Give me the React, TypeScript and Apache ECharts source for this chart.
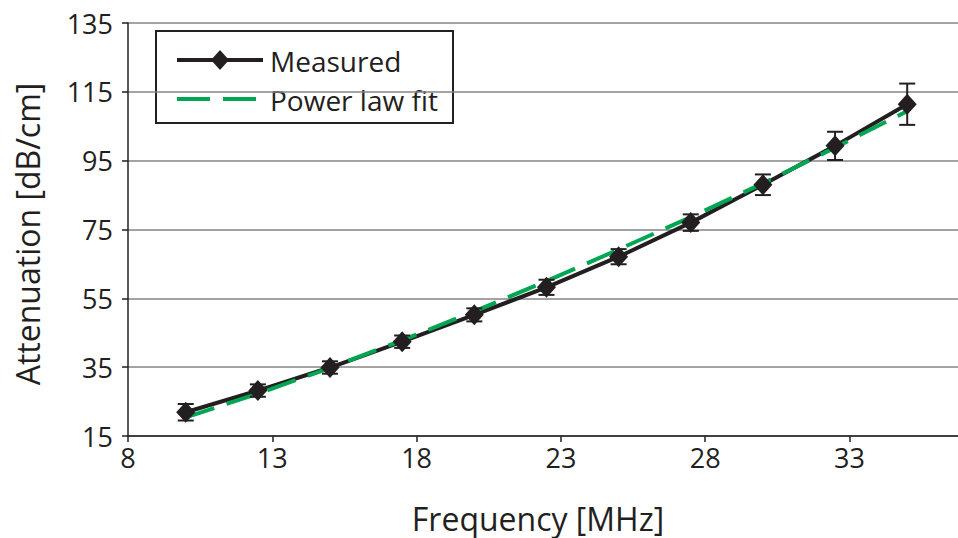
import React, { useEffect, useRef } from "react";
import * as echarts from "echarts";

const frequency = [10, 12.5, 15, 17.5, 20, 22.5, 25, 27.5, 30, 32.5, 35];
const measured = [21.9, 28.2, 34.9, 42.4, 50.2, 58.2, 67.1, 77.0, 88.0, 99.3, 111.4];
const errorBar = [2.4, 1.8, 1.8, 1.8, 1.9, 2.2, 2.2, 2.4, 3.0, 4.1, 6.0];
const powerFit = [20.4, 27.3, 34.8, 42.8, 51.2, 60.0, 69.2, 78.6, 88.4, 98.8, 109.4];
const legendNames = ["Measured", "Power law fit"];

const xMin = 8, xMax = 36.76, xStep = 5;
const yMin = 15, yMax = 135, yStep = 20;

const INK = "#231f20";
const GREEN = "#00a651";
const FONT = "Open Sans";

export default function App() {
  const ref = useRef<HTMLDivElement>(null);
  useEffect(() => {
    if (!ref.current) return;
    const chart = echarts.init(ref.current, null, { renderer: "svg" });
    chart.setOption({
      animation: false,
      backgroundColor: "#ffffff",
      grid: { left: 128, right: 0, top: 23, bottom: 102, containLabel: false },
      graphic: [
        {
          type: "group",
          z: 10,
          children: [
            {
              type: "rect",
              shape: { x: 156, y: 31, width: 297, height: 92 },
              style: { fill: "#ffffff", stroke: INK, lineWidth: 2 },
            },
            {
              type: "line",
              shape: { x1: 177, y1: 60, x2: 263, y2: 60 },
              style: { stroke: INK, lineWidth: 4 },
            },
            {
              type: "polygon",
              shape: { points: [[220, 50], [229, 60], [220, 70], [211, 60]] },
              style: { fill: INK },
            },
            {
              type: "text",
              x: 270,
              y: 61,
              style: { text: legendNames[0], fontFamily: FONT, fontSize: 28, fill: INK, verticalAlign: "middle" },
            },
            {
              type: "line",
              shape: { x1: 177, y1: 99, x2: 258, y2: 99 },
              style: { stroke: GREEN, lineWidth: 4, lineDash: [33, 13] },
            },
            {
              type: "text",
              x: 270,
              y: 100,
              style: { text: legendNames[1], fontFamily: FONT, fontSize: 28, fill: INK, verticalAlign: "middle" },
            },
          ],
        },
        {
          type: "text",
          x: 538,
          y: 518,
          style: {
            text: "Frequency [MHz]",
            fontFamily: FONT,
            fontSize: 32,
            fill: INK,
            align: "center",
            verticalAlign: "middle",
          },
        },
        {
          type: "text",
          x: 27,
          y: 234,
          rotation: Math.PI / 2,
          style: {
            text: "Attenuation [dB/cm]",
            fontFamily: FONT,
            fontSize: 32,
            fill: INK,
            align: "center",
            verticalAlign: "middle",
          },
        },
      ],
      xAxis: [
        { type: "value", min: xMin, max: xMax, show: false, position: "bottom" },
        {
          type: "value",
          position: "bottom",
          min: 0,
          max: xMax - xMin,
          interval: xStep,
          axisLine: { show: true, lineStyle: { color: INK, width: 1.5 } },
          axisTick: { show: true, length: 6, lineStyle: { color: INK, width: 1.5 } },
          axisLabel: {
            margin: 8,
            fontFamily: FONT,
            fontSize: 27,
            color: INK,
            showMaxLabel: false,
            formatter: (v: number) => String(Math.round(v + xMin)),
          },
          splitLine: { show: false },
        },
      ],
      yAxis: [
        { type: "value", min: yMin, max: yMax, show: false, position: "left" },
        {
          type: "value",
          position: "left",
          min: 0,
          max: yMax - yMin,
          interval: yStep,
          axisLine: { show: true, lineStyle: { color: INK, width: 1.5 } },
          axisTick: { show: true, length: 6, lineStyle: { color: INK, width: 1.5 } },
          axisLabel: {
            margin: 15,
            fontFamily: FONT,
            fontSize: 27,
            color: INK,
            formatter: (v: number) => String(v + yMin),
          },
          splitLine: { show: true, lineStyle: { color: "#858585", width: 1.5 } },
        },
      ],
      series: [
        {
          name: legendNames[0],
          type: "line",
          xAxisIndex: 0,
          yAxisIndex: 0,
          data: frequency.map((f, i) => [f, measured[i]]),
          symbol: "none",
          lineStyle: { color: INK, width: 4 },
          z: 2,
        },
        {
          name: legendNames[1],
          type: "line",
          xAxisIndex: 0,
          yAxisIndex: 0,
          data: frequency.map((f, i) => [f, powerFit[i]]),
          symbol: "none",
          lineStyle: { color: GREEN, width: 4, type: [30, 13] },
          z: 3,
        },
        {
          name: "markers",
          type: "scatter",
          xAxisIndex: 0,
          yAxisIndex: 0,
          data: frequency.map((f, i) => [f, measured[i]]),
          symbol: "diamond",
          symbolSize: [19, 21],
          itemStyle: { color: INK, opacity: 1 },
          z: 4,
        },
        {
          name: "errors",
          type: "custom",
          xAxisIndex: 0,
          yAxisIndex: 0,
          z: 4,
          data: frequency.map((f, i) => [f, measured[i], errorBar[i]]),
          encode: { x: 0, y: 1 },
          renderItem: (params: any, api: any) => {
            const x = api.value(0);
            const y = api.value(1);
            const e = api.value(2);
            const top = api.coord([x, y + e]);
            const bot = api.coord([x, y - e]);
            const hw = 8;
            const st = { stroke: INK, lineWidth: 2 };
            return {
              type: "group",
              children: [
                { type: "line", shape: { x1: top[0], y1: top[1], x2: bot[0], y2: bot[1] }, style: st },
                { type: "line", shape: { x1: top[0] - hw, y1: top[1], x2: top[0] + hw, y2: top[1] }, style: st },
                { type: "line", shape: { x1: bot[0] - hw, y1: bot[1], x2: bot[0] + hw, y2: bot[1] }, style: st },
              ],
            };
          },
        },
      ],
    });
    return () => chart.dispose();
  }, []);
  return <div ref={ref} style={{ width: 958, height: 538, position: "absolute", left: 0, top: 0 }} />;
}
